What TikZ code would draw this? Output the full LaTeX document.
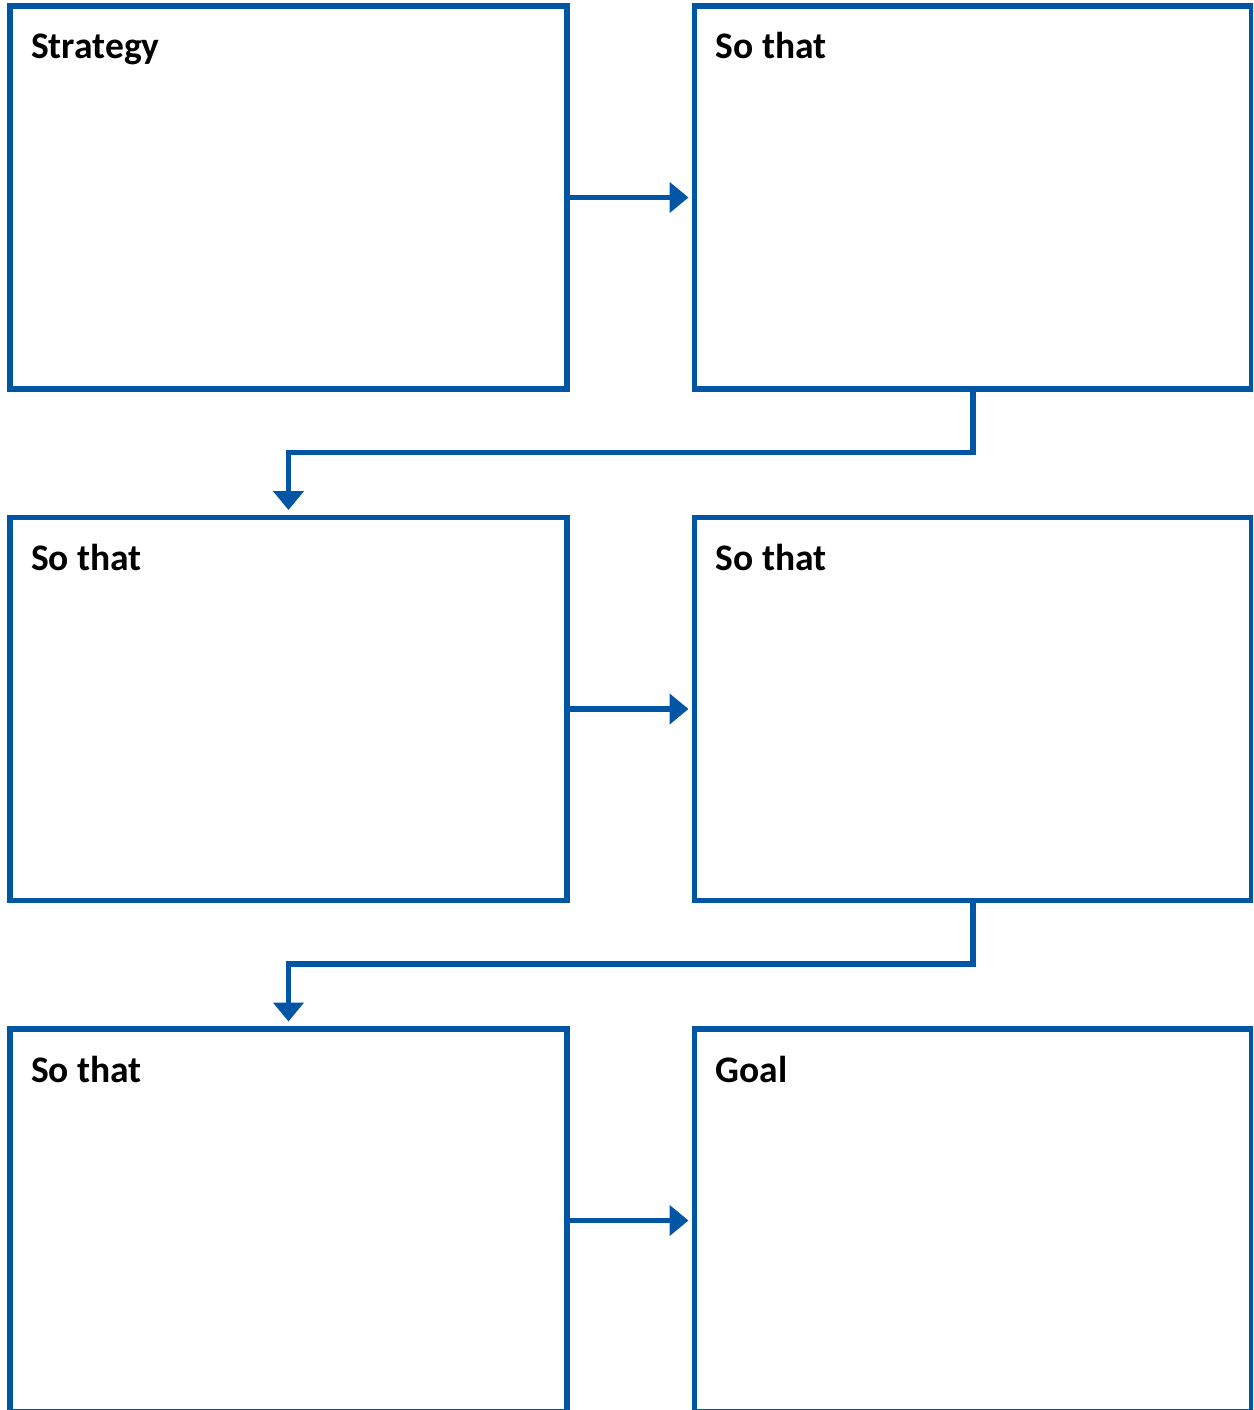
\documentclass[tikz,border=0pt]{standalone}
\usepackage{fontspec}
\setmainfont{Carlito}
\usetikzlibrary{arrows.meta}
\definecolor{boxblue}{RGB}{0,85,165}
\tikzset{
  stagebox/.style={draw=boxblue, line width=5.5pt, rectangle, inner sep=0pt, outer sep=0pt,
    minimum width=557pt, minimum height=383pt},
  lbl/.style={anchor=base west, inner sep=0pt, font=\fontsize{37.5}{45}\selectfont\bfseries, text=black},
  flow/.style={draw=boxblue, line width=5.5pt, -{Triangle[length=19pt,width=30pt]}},
}
\begin{document}
\begin{tikzpicture}[x=1pt,y=-1pt]
\useasboundingbox (0,0) rectangle (1253,1410);
\clip (0,0) rectangle (1253,1410);
\node[stagebox] (b1) at (288.5,197.5) {};
\node[stagebox] (b2) at (973,197.5) {};
\node[stagebox] (b3) at (288.5,709) {};
\node[stagebox] (b4) at (973,709) {};
\node[stagebox] (b5) at (288.5,1220.5) {};
\node[stagebox] (b6) at (973,1220.5) {};
\node[lbl] (t1) at ([shift={(21pt,-53pt)}]b1.north west) {Strategy};
\node[lbl] (t2) at ([shift={(21pt,-53pt)}]b2.north west) {So that};
\node[lbl] (t3) at ([shift={(21pt,-53pt)}]b3.north west) {So that};
\node[lbl] (t4) at ([shift={(21pt,-53pt)}]b4.north west) {So that};
\node[lbl] (t5) at ([shift={(21pt,-53pt)}]b5.north west) {So that};
\node[lbl] (t6) at ([shift={(21pt,-53pt)}]b6.north west) {Goal};
\draw[flow, shorten >=6pt] (b1.east) -- (b2.west);
\draw[flow, shorten >=6pt] (b3.east) -- (b4.west);
\draw[flow, shorten >=6pt] (b5.east) -- (b6.west);
\draw[flow, shorten >=7.5pt] (b2.south) -- ++(0,63.5) -| (b3.north);
\draw[flow, shorten >=7.5pt] (b4.south) -- ++(0,63.5) -| (b5.north);
\end{tikzpicture}
\end{document}
